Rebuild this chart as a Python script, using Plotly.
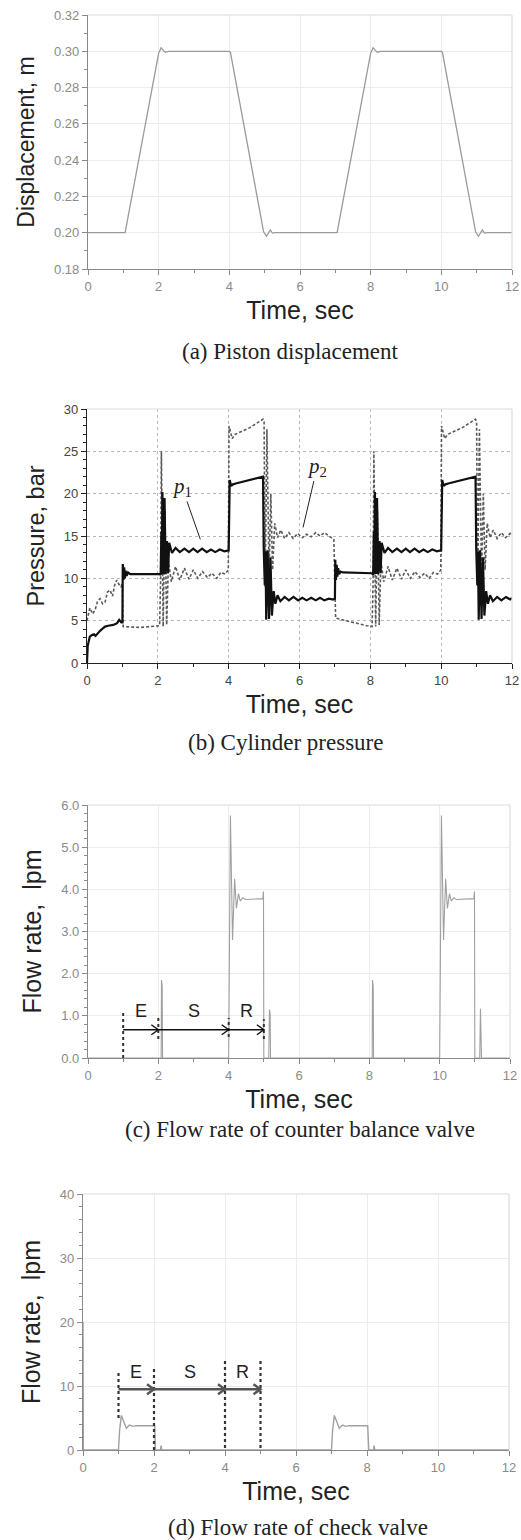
import plotly.graph_objects as go

# ---------------- (a) Piston displacement ----------------
t_disp = [0, 1.0, 1.05, 2.0, 2.07, 2.13, 2.19, 2.28, 4.0, 4.03, 4.97, 5.05, 5.1, 5.16, 5.22, 5.3,
          7.0, 7.05, 8.0, 8.07, 8.13, 8.19, 8.28, 10.0, 10.03, 10.97, 11.05, 11.1, 11.16, 11.22, 11.3, 12.0]
disp = [0.2, 0.2, 0.2, 0.299, 0.302, 0.3005, 0.2995, 0.3, 0.3, 0.2995, 0.2005, 0.198, 0.1995, 0.2015, 0.1998, 0.2,
        0.2, 0.2, 0.299, 0.302, 0.3005, 0.2995, 0.3, 0.3, 0.2995, 0.2005, 0.198, 0.1995, 0.2015, 0.1998, 0.2, 0.2]

# ---------------- (b) Cylinder pressure ----------------
t_p1 = [0, 0.02, 0.05, 0.08, 0.14, 0.2, 0.24, 0.3, 0.37, 0.45, 0.51, 0.6, 0.74, 0.85, 0.91, 0.97, 1.0,
        1.01, 1.03, 1.05, 1.07, 1.09, 1.12, 1.16, 1.22, 2.05,
        2.08, 2.1, 2.11, 2.13, 2.16, 2.19, 2.22, 2.26, 2.29, 2.32, 2.4, 2.5, 2.62, 2.75, 2.88, 3.0, 3.12,
        3.25, 3.38, 3.5, 3.62, 3.75, 3.88, 3.99,
        4.0, 4.01, 4.03, 4.07, 4.12, 4.2, 4.5, 4.8, 4.97,
        4.99, 5.02, 5.04, 5.06, 5.1, 5.14, 5.18, 5.22, 5.27, 5.32, 5.38, 5.46, 5.58, 5.7, 5.83, 5.96, 6.08,
        6.2, 6.33, 6.46, 6.58, 6.7, 6.83, 6.95, 6.99,
        7.0, 7.01, 7.03, 7.05, 7.07, 7.09, 7.12, 7.16, 7.22, 8.05,
        8.08, 8.1, 8.11, 8.13, 8.16, 8.19, 8.22, 8.26, 8.29, 8.32, 8.4, 8.5, 8.62, 8.75, 8.88, 9.0, 9.12,
        9.25, 9.38, 9.5, 9.62, 9.75, 9.88, 9.99,
        10.0, 10.01, 10.03, 10.07, 10.12, 10.2, 10.5, 10.8, 10.97,
        10.99, 11.02, 11.04, 11.06, 11.1, 11.14, 11.18, 11.22, 11.27, 11.32, 11.38, 11.46, 11.58, 11.7,
        11.83, 11.95, 12.0]
p1 = [0, 2.0, 2.6, 3.1, 3.3, 3.4, 3.2, 3.5, 3.8, 4.1, 4.3, 4.4, 4.5, 4.7, 5.1, 4.8, 4.8,
      11.7, 9.8, 11.3, 10.0, 10.9, 10.3, 10.7, 10.5, 10.5,
      10.4, 15.5, 10.5, 20.2, 10.5, 19.5, 10.5, 14.4, 10.6, 14.2, 13.0, 13.6, 13.1, 13.5, 13.1, 13.5, 13.1,
      13.5, 13.1, 13.4, 13.1, 13.4, 13.2, 13.3,
      13.3, 16.0, 21.6, 20.9, 21.1, 21.2, 21.5, 21.8, 22.0,
      13.5, 9.2, 13.2, 5.1, 13.3, 5.2, 12.5, 5.6, 8.5, 7.0, 8.0, 7.3, 7.8, 7.4, 7.8, 7.4, 7.7,
      7.4, 7.7, 7.4, 7.7, 7.4, 7.6, 7.5, 7.6,
      7.6, 12.2, 9.8, 11.6, 10.2, 11.2, 10.5, 10.8, 10.7, 10.6,
      10.4, 15.5, 10.5, 20.2, 10.5, 19.5, 10.5, 14.4, 10.6, 14.2, 13.0, 13.6, 13.1, 13.5, 13.1, 13.5, 13.1,
      13.5, 13.1, 13.4, 13.1, 13.4, 13.2, 13.3,
      13.3, 16.0, 21.6, 20.9, 21.1, 21.2, 21.5, 21.8, 22.0,
      13.5, 9.2, 13.2, 5.1, 13.3, 5.2, 12.5, 5.6, 8.5, 7.0, 8.0, 7.3, 7.8, 7.4,
      7.8, 7.5, 7.7]

t_p2 = [0, 0.04, 0.08, 0.16, 0.23, 0.3, 0.37, 0.44, 0.51, 0.58, 0.65, 0.72, 0.78, 0.84, 0.9, 0.96, 1.0,
        1.02, 1.5, 2.05,
        2.08, 2.1, 2.15, 2.2, 2.25, 2.3, 2.38, 2.5, 2.62, 2.75, 2.88, 3.0, 3.13, 3.26, 3.4, 3.53, 3.66,
        3.78, 3.9, 3.99,
        4.01, 4.1, 4.18, 4.6, 4.97,
        5.0, 5.03, 5.08, 5.14, 5.19, 5.24, 5.3, 5.38, 5.47, 5.58, 5.7, 5.82, 5.95, 6.08, 6.2, 6.33, 6.46,
        6.58, 6.7, 6.85, 6.97,
        7.02, 7.3, 7.6, 7.9, 8.05,
        8.08, 8.1, 8.15, 8.2, 8.25, 8.3, 8.38, 8.5, 8.62, 8.75, 8.88, 9.0, 9.13, 9.26, 9.4, 9.53, 9.66,
        9.78, 9.9, 9.99,
        10.01, 10.1, 10.18, 10.6, 10.97,
        11.0, 11.03, 11.08, 11.14, 11.19, 11.24, 11.3, 11.38, 11.47, 11.58, 11.7, 11.82, 11.95, 12.0]
p2 = [5.0, 6.0, 6.5, 5.8, 6.3, 7.3, 7.6, 7.0, 7.2, 8.4, 8.6, 7.9, 9.2, 9.8, 9.3, 9.0, 9.4,
      4.3, 4.2, 4.4,
      10.0, 25.0, 4.3, 18.0, 4.5, 12.0, 9.6, 11.4, 9.8, 11.2, 9.9, 11.0, 10.0, 10.8, 10.1, 10.6, 10.0,
      10.7, 10.5, 11.0,
      28.0, 26.5, 27.0, 27.8, 28.8,
      28.5, 9.0, 27.6, 10.5, 20.0, 11.0, 16.5, 14.8, 15.7, 14.7, 15.4, 14.7, 15.3, 14.8, 15.2, 14.9, 15.4,
      15.0, 15.4, 15.0, 14.6,
      5.3, 5.0, 4.7, 4.4, 4.3,
      10.0, 25.0, 4.3, 18.0, 4.5, 12.0, 9.6, 11.4, 9.8, 11.2, 9.9, 11.0, 10.0, 10.8, 10.1, 10.6, 10.0,
      10.7, 10.5, 11.0,
      28.0, 26.5, 27.0, 27.8, 28.8,
      28.5, 9.0, 27.6, 10.5, 20.0, 11.0, 16.5, 14.8, 15.7, 14.7, 15.4, 14.8, 15.3, 15.1]

p1_label = dict(text="<i>p</i><sub>1</sub>", tx=2.68, ty=20.8, x=3.2, y=14.6)
p2_label = dict(text="<i>p</i><sub>2</sub>", tx=6.5, ty=23.2, x=6.1, y=16.0)

# ---------------- (c) Counter balance valve flow ----------------
t_cbv = [0, 2.08, 2.09, 2.11, 2.12, 4.0, 4.05, 4.11, 4.17, 4.22, 4.28, 4.33, 4.4, 4.47, 4.97, 4.99, 5.0,
         5.14, 5.16, 5.18, 5.19, 8.08, 8.09, 8.11, 8.12, 10.0, 10.05, 10.11, 10.17, 10.22, 10.28, 10.33,
         10.4, 10.47, 10.97, 10.99, 11.0, 11.14, 11.16, 11.17, 11.18, 11.19, 12.0]
q_cbv = [0, 0, 1.85, 1.7, 0, 0, 5.75, 2.8, 4.25, 3.55, 3.9, 3.72, 3.8, 3.76, 3.78, 3.95, 0,
         0, 1.15, 1.05, 0, 0, 1.85, 1.7, 0, 0, 5.75, 2.8, 4.25, 3.55, 3.9, 3.72,
         3.8, 3.76, 3.78, 3.95, 0, 0, 1.17, 0.2, 0.85, 0, 0]

# ---------------- (d) Check valve flow ----------------
t_chk = [0, 0.01, 1.0, 1.03, 1.08, 1.15, 1.22, 1.31, 1.4, 1.5, 2.02, 2.04, 2.18, 2.2, 2.22,
         7.0, 7.03, 7.08, 7.15, 7.22, 7.31, 7.4, 7.5, 8.02, 8.05, 8.18, 8.2, 8.22, 12.0]
q_chk = [20, 0, 0, 3.0, 5.4, 4.3, 3.4, 3.9, 3.7, 3.8, 3.8, 0, 0, 0.7, 0,
         0, 3.0, 5.4, 4.3, 3.4, 3.9, 3.7, 3.8, 3.8, 0, 0, 0.7, 0, 0]

phase_t = [1, 2, 4, 5]
phase_labels = ["E", "S", "R"]

captions = ["(a) Piston displacement", "(b) Cylinder pressure",
            "(c) Flow rate of counter balance valve", "(d) Flow rate of check valve"]

W, H = 521, 1540
SANS = "Liberation Sans, Arial, sans-serif"
SERIF = "Liberation Serif, Times New Roman, serif"


def px_x(a, b):
    return [a / W, b / W]


def px_y(top, bottom):
    return [1 - bottom / H, 1 - top / H]


fig = go.Figure()

fig.add_trace(go.Scatter(x=t_disp, y=disp, mode="lines", line=dict(color="#9a9a9a", width=1.3),
                         xaxis="x", yaxis="y", showlegend=False))
fig.add_trace(go.Scatter(x=t_p2, y=p2, mode="lines", line=dict(color="#5a5a5a", width=1.6, dash="3px,2px"),
                         xaxis="x2", yaxis="y2", showlegend=False, name="p2"))
fig.add_trace(go.Scatter(x=t_p1, y=p1, mode="lines", line=dict(color="#111111", width=2.2),
                         xaxis="x2", yaxis="y2", showlegend=False, name="p1"))
fig.add_trace(go.Scatter(x=t_cbv, y=q_cbv, mode="lines", line=dict(color="#a0a0a0", width=1.1),
                         xaxis="x3", yaxis="y3", showlegend=False))
fig.add_trace(go.Scatter(x=t_chk, y=q_chk, mode="lines", line=dict(color="#a0a0a0", width=1.4),
                         xaxis="x4", yaxis="y4", showlegend=False, cliponaxis=False))

panels = [
    dict(k="", dom_x=px_x(88, 512), dom_y=px_y(15, 269), yr=[0.18, 0.32], dt=0.02, mdt=0.01, fmt=".2f",
         ytitle="Displacement, m", axc="#8a8a8a", tkc="#8a8a8a", grid="#ececec", gdash="solid", tfs=23),
    dict(k="2", dom_x=px_x(87, 512), dom_y=px_y(409, 663), yr=[0, 30], dt=5, mdt=1, fmt="d",
         ytitle="Pressure, bar", axc="#222222", tkc="#444444", grid="#b8b8b8", gdash="dot", tfs=23.5),
    dict(k="3", dom_x=px_x(88, 510), dom_y=px_y(805, 1058), yr=[0, 6], dt=1, mdt=0.2, fmt=".1f",
         ytitle="Flow rate,  lpm", axc="#8a8a8a", tkc="#8a8a8a", grid="#ececec", gdash="solid", tfs=25),
    dict(k="4", dom_x=px_x(83, 509), dom_y=px_y(1194, 1450), yr=[0, 40], dt=10, mdt=2, fmt="d",
         ytitle="Flow rate,  lpm", axc="#8a8a8a", tkc="#8a8a8a", grid="#ececec", gdash="solid", tfs=25),
]

layout = dict(width=W, height=H, margin=dict(l=0, r=0, t=0, b=0), paper_bgcolor="white",
              plot_bgcolor="white", template="none", showlegend=False)
shapes = []
for i, p in enumerate(panels):
    k = p["k"]
    xa = "xaxis" + k
    ya = "yaxis" + k
    layout[xa] = dict(domain=p["dom_x"], range=[0, 12], dtick=2, tick0=0, anchor="y" + k,
                      showline=True, linecolor=p["axc"], linewidth=1.2, ticks="outside", ticklen=5,
                      tickcolor=p["axc"], tickfont=dict(family=SANS, size=13, color=p["tkc"]),
                      showgrid=True, gridcolor=p["grid"], griddash=p["gdash"], gridwidth=1,
                      zeroline=False, automargin=False, fixedrange=True,
                      minor=dict(dtick=1, ticks="outside", ticklen=3, tickcolor=p["axc"], showgrid=False),
                      title=dict(text="Time, sec", font=dict(family=SANS, size=25, color="#222"), standoff=8))
    layout[ya] = dict(domain=p["dom_y"], range=p["yr"], dtick=p["dt"], tick0=p["yr"][0], anchor="x" + k,
                      tickformat=p["fmt"], showline=True, linecolor=p["axc"], linewidth=1.2,
                      ticks="outside", ticklen=5, tickcolor=p["axc"],
                      tickfont=dict(family=SANS, size=13, color=p["tkc"]),
                      showgrid=True, gridcolor=p["grid"], griddash=p["gdash"], gridwidth=1,
                      zeroline=False, automargin=False, fixedrange=True,
                      minor=dict(dtick=p["mdt"], ticks="outside", ticklen=3, tickcolor=p["axc"], showgrid=False),
                      title=dict(text=p["ytitle"], font=dict(family=SANS, size=p["tfs"], color="#222"), standoff=12))
    xr = "x" + k + " domain"
    yr = "y" + k + " domain"
    shapes.append(dict(type="line", xref=xr, yref=yr, x0=0, x1=1, y0=1, y1=1,
                       line=dict(color="#dcdcdc", width=1.2)))
    shapes.append(dict(type="line", xref=xr, yref=yr, x0=1, x1=1, y0=0, y1=1,
                       line=dict(color="#dcdcdc", width=1.2)))

annotations = []
cap_x = [290, 285, 300, 298]
cap_y = [352, 742, 1129, 1527]
for c, cx, cy in zip(captions, cap_x, cap_y):
    annotations.append(dict(text=c, xref="paper", yref="paper", x=cx / W, y=1 - cy / H,
                            xanchor="center", yanchor="middle", showarrow=False,
                            font=dict(family=SERIF, size=23, color="#222")))

for lab in (p1_label, p2_label):
    annotations.append(dict(text=lab["text"], xref="x2", yref="y2", x=lab["x"], y=lab["y"],
                            axref="x2", ayref="y2", ax=lab["tx"], ay=lab["ty"], showarrow=True,
                            arrowhead=0, arrowwidth=1, arrowcolor="#222",
                            font=dict(family=SERIF, size=21, color="#222")))

# E / S / R phase markers
phase_specs = [
    dict(k="3", y_arrow=0.67, y_text=1.12, tops=[1.12, 0.98, 0.95, 0.92], bots=[0.0, 0.45, 0.5, 0.45],
         color="#111111", lw=1.4, dash_w=2),
    dict(k="4", y_arrow=9.5, y_text=12.2, tops=[12.5, 13.0, 14.0, 14.0], bots=[5.0, 0.0, 0.3, 0.3],
         color="#555555", lw=2.4, dash_w=2.2),
]
for s in phase_specs:
    k = s["k"]
    for t, top, bot in zip(phase_t, s["tops"], s["bots"]):
        shapes.append(dict(type="line", xref="x" + k, yref="y" + k, x0=t, x1=t, y0=bot, y1=top,
                           line=dict(color="#333", width=s["dash_w"], dash="dot")))
    shapes.append(dict(type="line", xref="x" + k, yref="y" + k, x0=phase_t[0], x1=phase_t[-1],
                       y0=s["y_arrow"], y1=s["y_arrow"], line=dict(color=s["color"], width=s["lw"])))
    for a, b, lab in zip(phase_t[:-1], phase_t[1:], phase_labels):
        shapes.append(dict(type="path", xref="x" + k, yref="y" + k, xsizemode="pixel", ysizemode="pixel",
                           xanchor=b, yanchor=s["y_arrow"], path="M -7,5 L 0,0 L -7,-5",
                           line=dict(color=s["color"], width=s["lw"])))
        annotations.append(dict(text=lab, xref="x" + k, yref="y" + k, x=(a + b) / 2, y=s["y_text"],
                                showarrow=False, font=dict(family=SANS, size=18, color="#222")))

layout["shapes"] = shapes
layout["annotations"] = annotations
fig.update_layout(**layout)

fig.write_html("out.html", config={"displayModeBar": False},
               post_script="document.body.style.margin='0';document.body.style.overflow='hidden';")
